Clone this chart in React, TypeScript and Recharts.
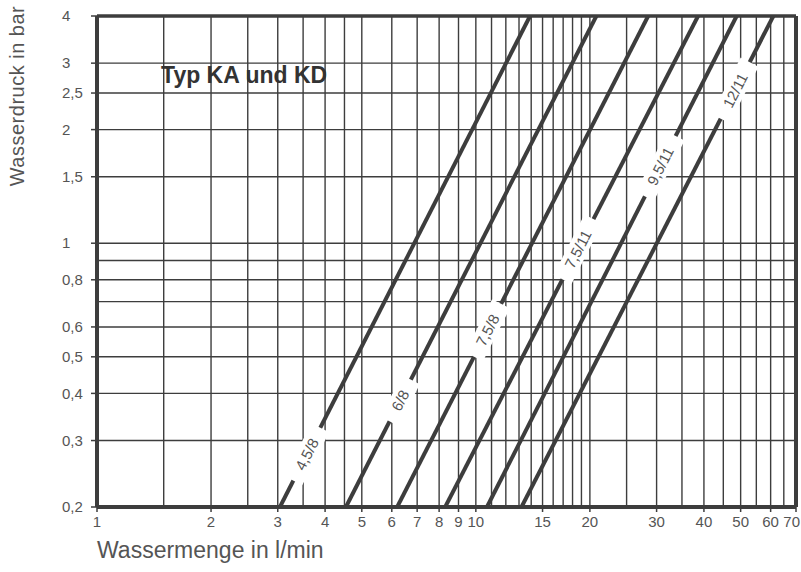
import React from 'react';
import { LineChart, Line, XAxis, YAxis, ReferenceLine, ReferenceArea, ReferenceDot } from 'recharts';

// Axis ticks (labelled)
const X_TICKS = [1, 2, 3, 4, 5, 6, 7, 8, 9, 10, 15, 20, 30, 40, 50, 60, 70];
const Y_TICKS = [0.2, 0.3, 0.4, 0.5, 0.6, 0.8, 1, 1.5, 2, 2.5, 3, 4];
// Grid lines
const X_GRID = [1.5, 2, 2.5, 3, 3.5, 4, 4.5, 5, 6, 7, 8, 9, 10, 11, 12, 13, 14, 15, 16, 17, 18, 19, 20, 25, 30, 35, 40, 45, 50, 55, 60, 65];
const Y_GRID = [0.3, 0.4, 0.5, 0.6, 0.7, 0.8, 0.9, 1, 1.5, 2, 2.5, 3];
// Nozzle curves: name, flow (l/min) at lowest and highest pressure
const SERIES_NAMES = ['4,5/8', '6/8', '7,5/8', '7,5/11', '9,5/11', '12/11'];
const PRESSURES = [0.2, 4];
const FLOW_AT_LOW = [3.04, 4.54, 6.2, 8.3, 10.7, 13.2];
const FLOW_AT_HIGH = [13.9, 20.8, 28.5, 38.6, 48.8, 61];
const LABEL_PRESSURE = [0.276, 0.383, 0.588, 0.964, 1.6, 2.54];

const X_DOMAIN = [1, 70];
const Y_DOMAIN = [0.2, 4];
const TITLE = 'Typ KA und KD';
const X_TITLE = 'Wassermenge in l/min';
const Y_TITLE = 'Wasserdruck in bar';

const FONT = '"Liberation Sans", Arial, sans-serif';
const INK = '#3d3d3d';
const TXT = '#555';

const fmt = (v: number) => String(v).replace('.', ',');

const seriesData = SERIES_NAMES.map((name, i) => ({
  name,
  data: [
    { q: FLOW_AT_LOW[i], p: PRESSURES[0] },
    { q: FLOW_AT_HIGH[i], p: PRESSURES[1] },
  ],
}));

const labelFlow = (i: number) => {
  const lp0 = Math.log10(PRESSURES[0]);
  const lp1 = Math.log10(PRESSURES[1]);
  const f = (Math.log10(LABEL_PRESSURE[i]) - lp0) / (lp1 - lp0);
  const lq0 = Math.log10(FLOW_AT_LOW[i]);
  const lq1 = Math.log10(FLOW_AT_HIGH[i]);
  return Math.pow(10, lq0 + f * (lq1 - lq0));
};

const textWidth = (s: string, size: number) => {
  let w = 0;
  for (const c of s) w += c === ',' || c === '/' ? 0.278 : 0.556;
  return w * size;
};

const YTick = (props: any) => {
  const { x, y, payload } = props;
  return (
    <text x={x - 27} y={y} dy="0.35em" textAnchor="start" fontSize={15} fill={TXT} fontFamily={FONT}>
      {fmt(payload.value)}
    </text>
  );
};

const XTick = (props: any) => {
  const { x, y, payload } = props;
  const last = payload.value === X_DOMAIN[1];
  return (
    <text x={last ? x + 4 : x} y={y} dy="0.71em" textAnchor={last ? 'end' : 'middle'} fontSize={15} fill={TXT} fontFamily={FONT}>
      {fmt(payload.value)}
    </text>
  );
};

const makeLabelShape = (name: string) => (props: any) => {
  const { cx, cy } = props;
  const w = textWidth(name, 15) + 26;
  return (
    <g transform={`translate(${cx},${cy}) rotate(-63)`}>
      <rect x={-w / 2} y={-10} width={w} height={20} fill="#fff" />
      <text x={0} y={0} dy="0.36em" textAnchor="middle" fontSize={15} fill={TXT} fontFamily={FONT}>
        {name}
      </text>
    </g>
  );
};

export default function App() {
  return (
    <div style={{ position: 'absolute', left: 0, top: 0, background: '#fff' }}>
      <LineChart width={801} height={572} margin={{ top: 16, right: 5, bottom: 35, left: 37 }}>
        <XAxis
          type="number"
          dataKey="q"
          scale="log"
          domain={X_DOMAIN}
          allowDataOverflow
          ticks={X_TICKS}
          interval={0}
          height={30}
          tickSize={5}
          tickMargin={4}
          tick={<XTick />}
          axisLine={{ stroke: INK, strokeWidth: 4 }}
          tickLine={{ stroke: INK, strokeWidth: 1.5 }}
          label={{
            content: (p: any) => (
              <text x={p.viewBox.x} y={p.viewBox.y + 51} textAnchor="start" fontSize={23} fill={TXT} fontFamily={FONT}>
                {X_TITLE}
              </text>
            ),
          }}
        />
        <YAxis
          type="number"
          dataKey="p"
          scale="log"
          domain={Y_DOMAIN}
          allowDataOverflow
          ticks={Y_TICKS}
          interval={0}
          width={60}
          tickSize={6}
          tickMargin={2}
          tick={<YTick />}
          axisLine={{ stroke: INK, strokeWidth: 4 }}
          tickLine={{ stroke: INK, strokeWidth: 1.5 }}
          label={{
            content: (p: any) => {
              const x = p.viewBox.x - 20;
              const y = p.viewBox.y + 80;
              return (
                <text x={x} y={y} transform={`rotate(-90 ${x} ${y})`} textAnchor="middle" dominantBaseline="central" fontSize={20} letterSpacing={0.5} fill={TXT} fontFamily={FONT}>
                  {Y_TITLE}
                </text>
              );
            },
          }}
        />
        {X_GRID.map((v) => (
          <ReferenceLine key={'gx' + v} x={v} stroke={INK} strokeWidth={1.4} />
        ))}
        {Y_GRID.map((v) => (
          <ReferenceLine key={'gy' + v} y={v} stroke={INK} strokeWidth={1.4} />
        ))}
        <ReferenceLine x={X_DOMAIN[1]} stroke={INK} strokeWidth={4} />
        <ReferenceLine y={Y_DOMAIN[1]} stroke={INK} strokeWidth={3.5} />
        <ReferenceArea x1={1.245} x2={3.95} y1={2.44} y2={2.52} fill="#fff" fillOpacity={1} stroke="none" />
        <ReferenceArea
          x1={1.245}
          x2={5.86}
          y1={2.51}
          y2={3.11}
          fill="#fff"
          fillOpacity={1}
          stroke="none"
          label={{ value: TITLE, position: 'insideLeft', offset: 28, fontSize: 23, fontWeight: 700, fill: '#333', fontFamily: FONT }}
        />
        {seriesData.map((s) => (
          <Line
            key={s.name}
            data={s.data}
            dataKey="p"
            name={s.name}
            stroke={INK}
            strokeWidth={4}
            dot={false}
            activeDot={false}
            isAnimationActive={false}
          />
        ))}
        {SERIES_NAMES.map((name, i) => (
          <ReferenceDot
            key={'lb' + name}
            x={labelFlow(i)}
            y={LABEL_PRESSURE[i]}
            r={1}
            shape={makeLabelShape(name)}
            zIndex={2000}
          />
        ))}
      </LineChart>
    </div>
  );
}
